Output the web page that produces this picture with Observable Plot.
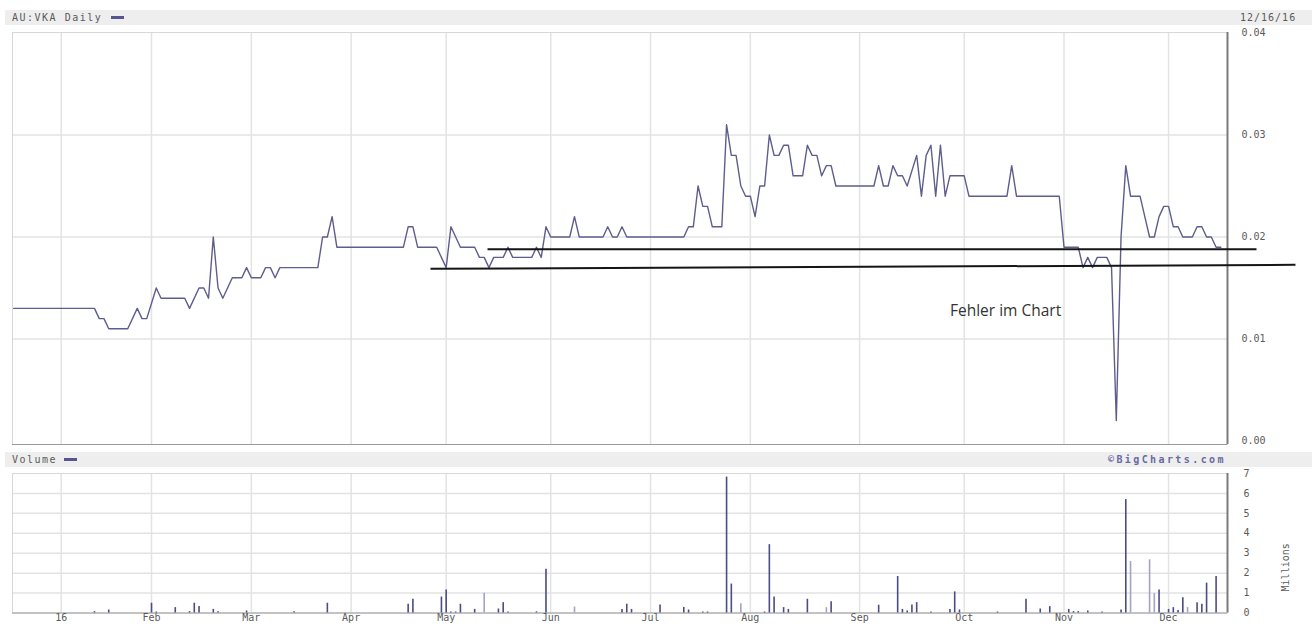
<!DOCTYPE html>
<html><head><meta charset="utf-8">
<script src="https://cdn.jsdelivr.net/npm/d3@7"></script>
<script src="https://cdn.jsdelivr.net/npm/@observablehq/plot@0.6"></script>
<style>
body{margin:0;background:#fff;}
#wrap{position:relative;width:1312px;height:624px;overflow:hidden;font-family:"DejaVu Sans Mono",monospace;}
#wrap svg{position:absolute;left:0;top:0;}
.band{position:absolute;left:5px;right:0;height:15px;background:#eeeeee;}
.lbl{position:absolute;font-size:10px;color:#5a5a5a;letter-spacing:1.5px;line-height:15px;white-space:nowrap;}
.dash{position:absolute;height:3px;width:13px;background:#55558f;}
</style></head><body>
<div id="wrap">
  <div class="band" style="top:10px"></div>
  <div class="lbl" style="left:12px;top:10px">AU:VKA Daily</div>
  <div class="dash" style="left:111px;top:16px"></div>
  <div class="lbl" style="left:1240px;top:10px;letter-spacing:1px">12/16/16</div>
  <div class="band" style="top:452px"></div>
  <div class="lbl" style="left:12px;top:452px">Volume</div>
  <div class="dash" style="left:64px;top:458px"></div>
  <div class="lbl" style="left:1108px;top:452px;font-weight:bold;color:#6a6aa3;letter-spacing:2.4px">&copy;BigCharts.com</div>
</div>
<script>
// trading-day index (0 = 2015-12-16) and closing price
const priceDay = [0,17,18,19,20,24,26,27,28,30,31,36,37,39,40,41,42,43,44,46,48,49,50,52,53,54,55,56,64,65,66,67,68,82,83,84,85,89,91,92,94,97,98,99,100,101,103,104,105,109,110,111,112,113,117,118,119,124,125,126,127,128,129,141,142,143,144,145,146,147,149,150,151,152,153,154,155,156,157,158,159,160,161,162,163,164,166,167,168,169,170,171,172,173,181,182,183,184,185,186,187,188,190,191,192,193,194,195,196,197,200,201,209,210,211,220,221,224,225,226,227,228,230,231,232,233,234,235,237,238,239,240,241,242,243,244,245,246,248,249,250,251,252,253,254];
const priceVal = [0.013,0.013,0.012,0.012,0.011,0.011,0.013,0.012,0.012,0.015,0.014,0.014,0.013,0.015,0.015,0.014,0.020,0.015,0.014,0.016,0.016,0.017,0.016,0.016,0.017,0.017,0.016,0.017,0.017,0.020,0.020,0.022,0.019,0.019,0.021,0.021,0.019,0.019,0.017,0.021,0.019,0.019,0.018,0.018,0.017,0.018,0.018,0.019,0.018,0.018,0.019,0.018,0.021,0.020,0.020,0.022,0.020,0.020,0.021,0.020,0.020,0.021,0.020,0.020,0.021,0.021,0.025,0.023,0.023,0.021,0.021,0.031,0.028,0.028,0.025,0.024,0.024,0.022,0.025,0.025,0.030,0.028,0.028,0.029,0.029,0.026,0.026,0.029,0.028,0.028,0.026,0.027,0.027,0.025,0.025,0.027,0.025,0.025,0.027,0.026,0.026,0.025,0.028,0.024,0.028,0.029,0.024,0.029,0.024,0.026,0.026,0.024,0.024,0.027,0.024,0.024,0.019,0.019,0.017,0.018,0.017,0.018,0.018,0.017,0.002,0.020,0.027,0.024,0.024,0.022,0.020,0.020,0.022,0.023,0.023,0.021,0.021,0.020,0.020,0.021,0.021,0.020,0.020,0.019,0.019];

// volume (millions)
const volDay = [17,20,29,30,34,37,38,39,42,43,49,59,66,83,84,90,91,92,93,94,97,99,102,103,104,110,112,118,128,129,130,136,141,142,145,146,150,151,153,158,159,160,162,163,167,171,172,182,186,187,188,189,190,193,197,198,199,207,213,216,218,222,223,224,226,229,233,234,235,239,240,241,243,244,245,246,247,249,250,251,253];
const volVal = [0.07,0.15,0.49,0.05,0.27,0.07,0.49,0.32,0.18,0.06,0.10,0.06,0.49,0.44,0.69,0.80,1.15,0.05,0.05,0.44,0.18,0.99,0.20,0.52,0.05,0.06,2.20,0.30,0.18,0.44,0.18,0.40,0.27,0.15,0.05,0.05,6.82,1.45,0.47,0.05,3.43,0.80,0.27,0.18,0.69,0.27,0.57,0.39,1.83,0.18,0.10,0.40,0.52,0.05,0.18,1.06,0.15,0.05,0.69,0.20,0.32,0.18,0.07,0.07,0.10,0.05,0.15,5.69,2.58,2.67,0.97,1.16,0.18,0.27,0.12,0.77,0.27,0.52,0.44,1.50,1.83];
const volDir = ["up","up","up","up","up","up","up","up","up","up","up","up","up","up","up","up","up","up","up","up","up","down","up","up","up","up","up","down","up","up","up","up","up","up","up","up","up","up","down","up","up","up","up","up","up","down","up","up","up","up","up","up","up","up","up","up","up","up","up","up","up","up","up","up","up","up","up","up","down","down","down","up","up","up","up","up","down","up","up","up","up"];

const monthTickDay = [10,29,50,71,91,113,134,155,178,200,221,243];
const monthTickLabel = ["16","Feb","Mar","Apr","May","Jun","Jul","Aug","Sep","Oct","Nov","Dec"];
const priceTicks = [0,0.01,0.02,0.03,0.04];
const volTicks = [0,1,2,3,4,5,6,7];

// hand-drawn support lines and note
const annX1 = [99.7, 87.7];
const annY1 = [0.0188, 0.01688];
const annX2 = [261.5, 269.7];
const annY2 = [0.0188, 0.01727];
const noteText = ["Fehler im Chart"];
const noteX = [197];
const noteY = [0.0127];

const priceData = priceDay.map((d,i)=>({day:d, price:priceVal[i]}));
const volData = volDay.map((d,i)=>({day:d, vol:volVal[i], dir:volDir[i]}));
const annot = annX1.map((d,i)=>({x1:d, y1:annY1[i], x2:annX2[i], y2:annY2[i]}));
const notes = noteText.map((t,i)=>({t, x:noteX[i], y:noteY[i]}));

const xDomain = [-0.25, 255.4];
const gridStyle = {stroke:"#e3e3e3", strokeWidth:1.5};
const baseStyle = {background:"transparent", fontFamily:"DejaVu Sans Mono", fontSize:"10px", overflow:"visible"};

const pricePlot = Plot.plot({
  width:1312, height:624, marginLeft:12, marginRight:85, marginTop:32, marginBottom:180,
  x:{domain:xDomain, axis:null},
  y:{domain:[0,0.04], range:[440.5,32.5], axis:null},
  style:baseStyle,
  marks:[
    Plot.ruleY([0.01,0.02,0.03], gridStyle),
    Plot.ruleX(monthTickDay, gridStyle),
    Plot.frame({stroke:"#d8d8d8"}),
    Plot.ruleY([0], {dy:3.5, stroke:"#9a9a9a"}),
    Plot.ruleX([xDomain[1]], {stroke:"#7a7a7a", strokeWidth:2}),
    Plot.line(priceData, {x:"day", y:"price", stroke:"#5d5d8e", strokeWidth:1.4}),
    Plot.link(annot, {x1:"x1", y1:"y1", x2:"x2", y2:"y2", stroke:"#151515", strokeWidth:2}),
    Plot.text(priceTicks, {y:d=>d, frameAnchor:"right", dx:14, textAnchor:"start", text:d=>d.toFixed(2), fill:"#5a5a5a", style:"letter-spacing:1.5px"}),
    Plot.text(notes, {x:"x", y:"y", text:"t", textAnchor:"start", fontFamily:"Open Sans", fontSize:15.5, fill:"#333", style:"letter-spacing:0.9px"})
  ]
});

const volPlot = Plot.plot({
  width:1312, height:624, marginLeft:12, marginRight:85, marginTop:473, marginBottom:11.5,
  x:{domain:xDomain, axis:null},
  y:{domain:[0,7], axis:null},
  color:{domain:["up","down"], range:["#4b4b85","#a3a3c8"]},
  style:baseStyle,
  marks:[
    Plot.ruleY([1,2,3,4,5,6], gridStyle),
    Plot.ruleX(monthTickDay, gridStyle),
    Plot.frame({stroke:"#d8d8d8"}),
    Plot.ruleY([0], {stroke:"#9a9a9a"}),
    Plot.ruleX([xDomain[1]], {stroke:"#7a7a7a", strokeWidth:2}),
    Plot.ruleX(volData, {x:"day", y1:0, y2:"vol", stroke:"dir", strokeWidth:1.6}),
    Plot.text(volTicks, {y:d=>d, frameAnchor:"right", dx:16, textAnchor:"start", text:d=>String(d), fill:"#5a5a5a"}),
    Plot.text(monthTickDay, {x:d=>d, frameAnchor:"bottom", dy:8, text:(d,i)=>monthTickLabel[i], fill:"#5a5a5a"}),
    Plot.text(["Millions"], {frameAnchor:"right", dx:58, rotate:-90, text:d=>d, fill:"#5a5a5a"})
  ]
});

document.getElementById("wrap").appendChild(pricePlot);
document.getElementById("wrap").appendChild(volPlot);
</script>
</body></html>
